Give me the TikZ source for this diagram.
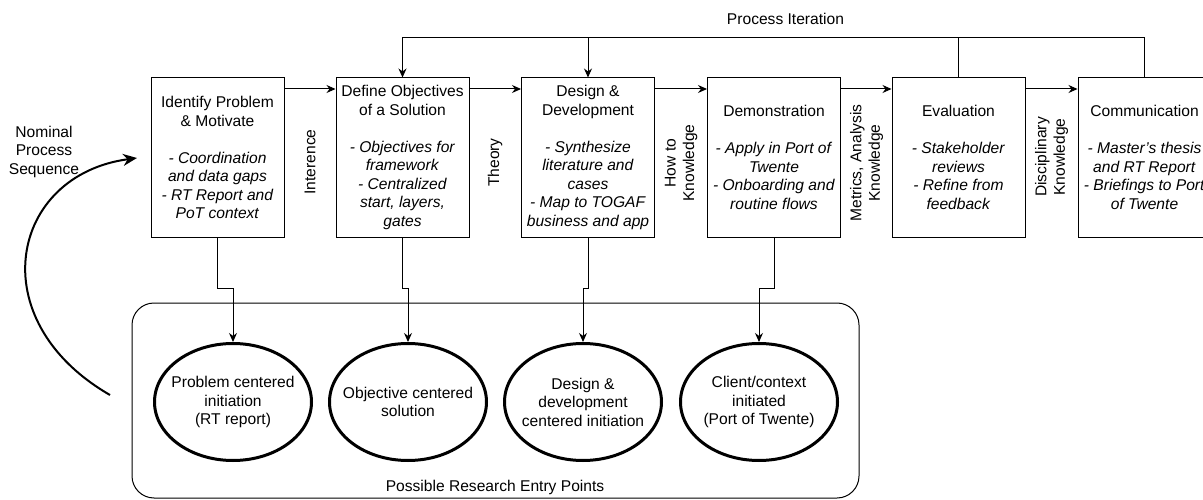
\documentclass[tikz,border=0pt]{standalone}
\usepackage{fontspec}
\setmainfont{Liberation Sans}
\usetikzlibrary{shapes.geometric,arrows.meta}
\tikzset{
  stage/.style={draw, line width=1pt, minimum width=133pt, minimum height=159pt, inner sep=0pt, align=center},
  entry/.style={draw, ellipse, line width=3pt, minimum width=157pt, minimum height=117pt, inner xsep=-10pt, inner ysep=12pt, align=center},
  side/.style={rotate=90, align=center},
  flow/.style={line width=1pt, -{Stealth[length=9pt,width=8pt]}},
}
\begin{document}
\begin{tikzpicture}[x=1pt, y=-1pt, font={\fontsize{15.6}{18.5}\selectfont}]
\clip (0,0) rectangle (1203,500);

\node[stage] (prob) at (217.5,157.5) {Identify Problem\\ \& Motivate\\[18.5pt] \textit{- Coordination}\\ \textit{and data gaps}\\ \textit{- RT Report and}\\ \textit{PoT context}};
\node[stage] (obj) at (402.5,157.5) {Define Objectives\\ of a Solution\\[18.5pt] \textit{- Objectives for}\\ \textit{framework}\\ \textit{- Centralized}\\ \textit{start, layers,}\\ \textit{gates}};
\node[stage] (design) at (588,157.5) {Design \&\\ Development\\[18.5pt] \textit{- Synthesize}\\ \textit{literature and}\\ \textit{cases}\\ \textit{- Map to TOGAF}\\ \textit{business and app}};
\node[stage] (demo) at (774,157.5) {Demonstration\\[18.5pt] \textit{- Apply in Port of}\\ \textit{Twente}\\ \textit{- Onboarding and}\\ \textit{routine flows}};
\node[stage] (eval) at (958.5,157.5) {Evaluation\\[18.5pt] \textit{- Stakeholder}\\ \textit{reviews}\\ \textit{- Refine from}\\ \textit{feedback}};
\node[stage] (comm) at (1144.5,157.5) {Communication\\[18.5pt] \textit{- Master’s thesis}\\ \textit{and RT Report}\\ \textit{- Briefings to Port}\\ \textit{of Twente}};

\draw[flow] ([yshift=-11.5pt]prob.north east) -- ([yshift=-11.5pt]obj.north west);
\draw[flow] ([yshift=-11.5pt]obj.north east) -- ([yshift=-11.5pt]design.north west);
\draw[flow] ([yshift=-11.5pt]design.north east) -- ([yshift=-11.5pt]demo.north west);
\draw[flow] ([yshift=-11.5pt]demo.north east) -- ([yshift=-11.5pt]eval.north west);
\draw[flow] ([yshift=-11.5pt]eval.north east) -- ([yshift=-11.5pt]comm.north west);

\node[side] (lblinf) at (310,162) {Interence};
\node[side] (lbltheory) at (495,162.5) {Theory};
\node[side] (lblhow) at (681,163) {How to\\ Knowledge};
\node[side] (lblmetrics) at (866.5,163) {Metrics, Analysis\\ Knowledge};
\node[side] (lbldisc) at (1051.5,157) {Disciplinary\\ Knowledge};

\coordinate (itertop) at (402.5,38);
\node (iterlbl) at (785.5,19) {Process Iteration};
\draw[flow] (comm.north) |- (itertop) -- (obj.north);
\draw[line width=1pt] (eval.north) -- (eval.north |- itertop);
\draw[flow] (design.north |- itertop) -- (design.north);

\node[draw, line width=1pt, rounded corners=22pt, minimum width=727pt, minimum height=195pt] (entrybox) at (495.5,400.5) {};
\node (entrylbl) at (495,487) {Possible Research Entry Points};

\node[entry] (pce) at (233,402) {Problem centered\\ initiation\\ (RT report)};
\node[entry] (oce) at (408,402) {Objective centered\\ solution};
\node[entry] (dce) at (583,402) {Design \&\\ development\\ centered initiation};
\node[entry] (cce) at (759,402) {Client/context\\ initiated\\ (Port of Twente)};

\draw[flow] (prob.south) -- ++(0,51) -| (pce.north);
\draw[flow] (obj.south) -- ++(0,51) -| (oce.north);
\draw[flow] (design.south) -- ++(0,51) -| (dce.north);
\draw[flow] (demo.south) -- ++(0,51) -| (cce.north);

\node[align=center] (nomlbl) at (44,151.5) {Nominal\\ Process\\ Sequence};
\coordinate (nomstart) at (110,395);
\coordinate (nomend) at (137,158);
\draw[line width=2pt, -{Stealth[length=14pt,width=12pt]}] (nomstart) .. controls (-20,320) and (10,175) .. (nomend);
\end{tikzpicture}
\end{document}
